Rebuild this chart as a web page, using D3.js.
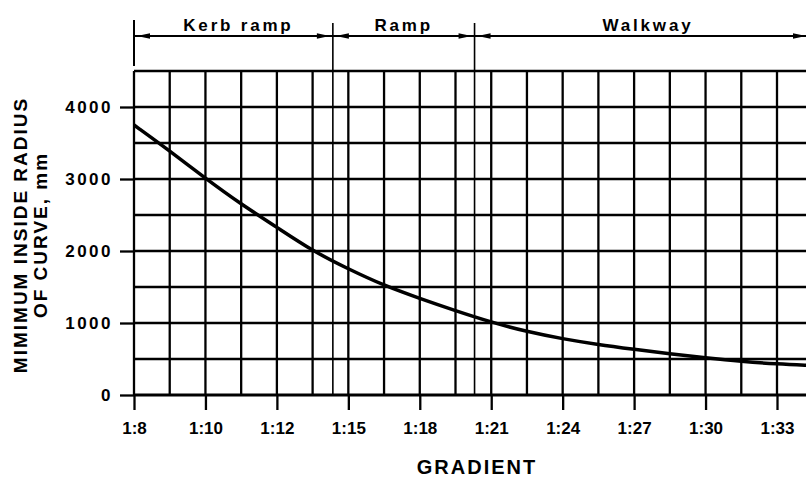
<!doctype html>
<html lang="en">
<head>
  <meta charset="utf-8">
  <title>Minimum inside radius of curve</title>
  <style>
  body { margin: 0; background: #fff; }
  svg { display: block; font-family: "Liberation Sans", Arial, Helvetica, sans-serif; font-weight: bold; }
  .grid line { stroke: #000; stroke-width: 2.3; }
  .axis path { display: none; }
  .axis line { stroke: #000; stroke-width: 2.3; }
  .axis text { fill: #000; font-weight: bold; }
  </style>
</head>
<body>
  <div id="chart"></div>
  <script src="https://cdn.jsdelivr.net/npm/d3@7/dist/d3.min.js"></script>
  <script>
    // gradient is 1:N, N on the x axis
    var gradients = [8, 9, 10, 11, 12, 13.5, 15, 16.5, 18, 19.5, 21, 22.5, 24, 25.5, 27, 28.5, 30, 31.5, 33, 34.4];
    var radius    = [3750, 3390, 3010, 2650, 2330, 2000, 1750, 1520, 1340, 1170, 1010, 880, 780, 700, 635, 570, 515, 465, 430, 410];

    var xTicks = [8, 10, 12, 15, 18, 21, 24, 27, 30, 33];
    var yTicks = [0, 1000, 2000, 3000, 4000];
    var xGrid = [8, 9, 10, 11, 12, 13.5, 15, 16.5, 18, 19.5, 21, 22.5, 24, 25.5, 27, 28.5, 30, 31.5, 33, 34.5];
    var yGrid = [0, 500, 1000, 1500, 2000, 2500, 3000, 3500, 4000, 4500];

    var zones = ["Kerb ramp", "Ramp", "Walkway"];
    var zoneBounds = [8, 14.35, 20.3, 35];

    (function() {
      var width = 806, height = 477;
      var plotLeft = 134, plotRight = 777, plotTop = 71, plotBottom = 395;

      // the axis is stretched after 1:12 (1.5 units per cell instead of 1)
      var x = d3.scaleLinear().domain([8, 12, 33])
          .range([plotLeft, plotLeft + 4 * (plotRight - plotLeft) / 18, plotRight]);
      var y = d3.scaleLinear().domain([0, 4500]).range([plotBottom, plotTop]);

      var svg = d3.select("#chart").append("svg")
          .attr("width", width)
          .attr("height", height);

      var grid = svg.append("g").attr("class", "grid");
      grid.selectAll(".v").data(xGrid).enter().append("line")
          .attr("x1", d => x(d)).attr("x2", d => x(d))
          .attr("y1", plotTop).attr("y2", plotBottom);
      grid.selectAll(".h").data(yGrid).enter().append("line")
          .attr("x1", plotLeft).attr("x2", width)
          .attr("y1", d => y(d)).attr("y2", d => y(d))
          .style("stroke-width", d => d === 0 ? 2.8 : 2.3);

      svg.append("g")
          .attr("class", "axis")
          .attr("transform", "translate(0," + plotBottom + ")")
          .call(d3.axisBottom(x).tickValues(xTicks).tickFormat(d => "1:" + d).tickSize(15).tickPadding(12))
          .selectAll("text").style("font-size", "17px");

      svg.append("g")
          .attr("class", "axis")
          .attr("transform", "translate(" + plotLeft + ",0)")
          .call(d3.axisLeft(y).tickValues(yTicks).tickFormat(d3.format("d")).tickSize(14).tickPadding(7))
          .selectAll("text").style("font-size", "17px").style("letter-spacing", "2.5px");

      // zone dividers and dimension line
      var dim = svg.append("g");
      var dimY = 36;
      dim.append("line")
          .attr("x1", x(zoneBounds[0])).attr("x2", width)
          .attr("y1", dimY).attr("y2", dimY)
          .attr("stroke", "#000").attr("stroke-width", 2);
      dim.append("line")
          .attr("x1", x(zoneBounds[0])).attr("x2", x(zoneBounds[0]))
          .attr("y1", 20).attr("y2", 66)
          .attr("stroke", "#000").attr("stroke-width", 2);
      dim.selectAll(".div").data(zoneBounds.slice(1, 3)).enter().append("line")
          .attr("x1", d => x(d)).attr("x2", d => x(d))
          .attr("y1", 23).attr("y2", plotBottom)
          .attr("stroke", "#000").attr("stroke-width", 1.6);

      var arrow = function(xTip, dir) {
        var l = 13, h = 2.8;
        return "M" + xTip + "," + dimY +
          "L" + (xTip + dir * l) + "," + (dimY - h) +
          "L" + (xTip + dir * l) + "," + (dimY + h) + "Z";
      };
      zones.forEach(function(z, i) {
        var a = x(zoneBounds[i]) + 3, b = Math.min(x(zoneBounds[i + 1]) - 3, width);
        dim.append("path").attr("d", arrow(a, 1)).attr("fill", "#000");
        dim.append("path").attr("d", arrow(b, -1)).attr("fill", "#000");
      });
      dim.selectAll(".zt").data(zones).enter().append("text")
          .attr("x", (d, i) => i === 2 ? 648 : (x(zoneBounds[i]) + x(zoneBounds[i + 1])) / 2 + (i === 0 ? 5 : 0))
          .attr("y", 31)
          .attr("text-anchor", "middle")
          .style("font-size", "17px")
          .style("letter-spacing", "2.8px")
          .text(d => d);

      // curve
      var pts = gradients.map((g, i) => [g, radius[i]]);
      svg.append("path")
          .datum(pts)
          .attr("fill", "none")
          .attr("stroke", "#000")
          .attr("stroke-width", 3.5)
          .attr("d", d3.line().x(d => x(d[0])).y(d => y(d[1])).curve(d3.curveBasis));

      // axis titles
      svg.append("text")
          .attr("x", 477).attr("y", 474)
          .attr("text-anchor", "middle")
          .style("font-size", "20px")
          .style("letter-spacing", "2px")
          .text("GRADIENT");

      var yt = svg.append("text")
          .attr("transform", "translate(27,235) rotate(-90)")
          .attr("text-anchor", "middle")
          .style("font-size", "19px")
          .style("letter-spacing", "2px");
      yt.append("tspan").attr("x", 0).attr("y", 0).text("MIMIMUM INSIDE RADIUS");
      yt.append("tspan").attr("x", 0).attr("y", 20).text("OF CURVE, mm");
    })();
  </script>
</body>
</html>
